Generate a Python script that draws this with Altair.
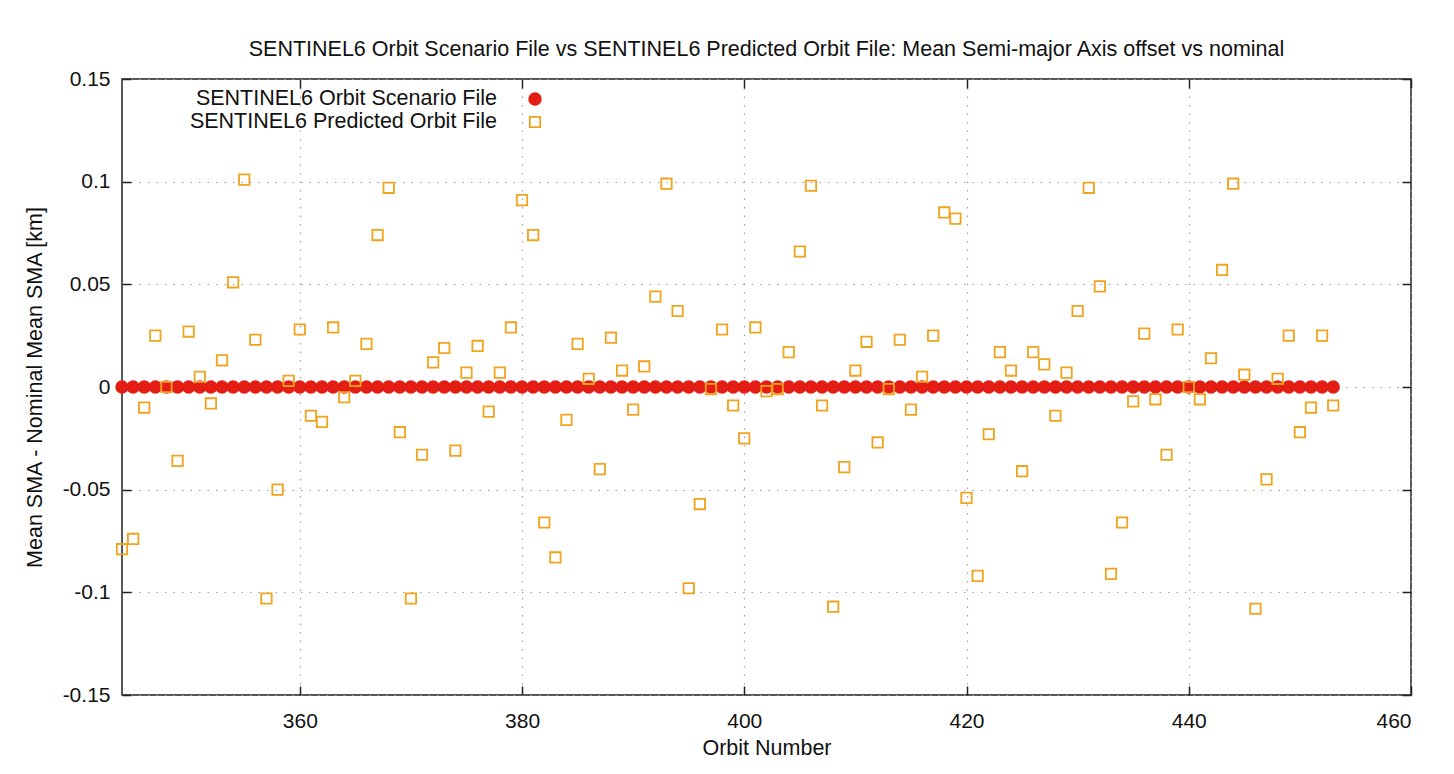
import altair as alt
import pandas as pd

# ---------------- data ----------------
orbits = list(range(344, 454))  # orbit numbers 344 ... 453

scenario_offset = [
    0.0, 0.0, 0.0, 0.0, 0.0, 0.0, 0.0, 0.0, 0.0, 0.0,
    0.0, 0.0, 0.0, 0.0, 0.0, 0.0, 0.0, 0.0, 0.0, 0.0,
    0.0, 0.0, 0.0, 0.0, 0.0, 0.0, 0.0, 0.0, 0.0, 0.0,
    0.0, 0.0, 0.0, 0.0, 0.0, 0.0, 0.0, 0.0, 0.0, 0.0,
    0.0, 0.0, 0.0, 0.0, 0.0, 0.0, 0.0, 0.0, 0.0, 0.0,
    0.0, 0.0, 0.0, 0.0, 0.0, 0.0, 0.0, 0.0, 0.0, 0.0,
    0.0, 0.0, 0.0, 0.0, 0.0, 0.0, 0.0, 0.0, 0.0, 0.0,
    0.0, 0.0, 0.0, 0.0, 0.0, 0.0, 0.0, 0.0, 0.0, 0.0,
    0.0, 0.0, 0.0, 0.0, 0.0, 0.0, 0.0, 0.0, 0.0, 0.0,
    0.0, 0.0, 0.0, 0.0, 0.0, 0.0, 0.0, 0.0, 0.0, 0.0,
    0.0, 0.0, 0.0, 0.0, 0.0, 0.0, 0.0, 0.0, 0.0, 0.0,
]

predicted_offset = [
    -0.079, -0.074, -0.010, 0.025, 0.000, -0.036, 0.027, 0.005, -0.008, 0.013,   # 344-353
    0.051, 0.101, 0.023, -0.103, -0.050, 0.003, 0.028, -0.014, -0.017, 0.029,    # 354-363
    -0.005, 0.003, 0.021, 0.074, 0.097, -0.022, -0.103, -0.033, 0.012, 0.019,    # 364-373
    -0.031, 0.007, 0.020, -0.012, 0.007, 0.029, 0.091, 0.074, -0.066, -0.083,    # 374-383
    -0.016, 0.021, 0.004, -0.040, 0.024, 0.008, -0.011, 0.010, 0.044, 0.099,    # 384-393
    0.037, -0.098, -0.057, -0.001, 0.028, -0.009, -0.025, 0.029, -0.002, -0.001, # 394-403
    0.017, 0.066, 0.098, -0.009, -0.107, -0.039, 0.008, 0.022, -0.027, -0.001,   # 404-413
    0.023, -0.011, 0.005, 0.025, 0.085, 0.082, -0.054, -0.092, -0.023, 0.017,    # 414-423
    0.008, -0.041, 0.017, 0.011, -0.014, 0.007, 0.037, 0.097, 0.049, -0.091,     # 424-433
    -0.066, -0.007, 0.026, -0.006, -0.033, 0.028, 0.000, -0.006, 0.014, 0.057,   # 434-443
    0.099, 0.006, -0.108, -0.045, 0.004, 0.025, -0.022, -0.010, 0.025, -0.009,   # 444-453
]

series_names = ["SENTINEL6 Orbit Scenario File", "SENTINEL6 Predicted Orbit File"]
x_ticks = [360, 380, 400, 420, 440, 460]
y_ticks = [-0.15, -0.1, -0.05, 0, 0.05, 0.1, 0.15]

title_text = ("SENTINEL6 Orbit Scenario File vs SENTINEL6 Predicted Orbit File: "
              "Mean Semi-major Axis offset vs nominal")
x_title = "Orbit Number"
y_title = "Mean SMA - Nominal Mean SMA [km]"

df = pd.concat([
    pd.DataFrame({"orbit": orbits, "offset": scenario_offset, "series": series_names[0]}),
    pd.DataFrame({"orbit": orbits, "offset": predicted_offset, "series": series_names[1]}),
], ignore_index=True)

# ---------------- styling ----------------
FONT = "Liberation Sans"
TXT = "#111111"
RED = "#e41e14"
ORANGE = "#f0a31c"
W, H = 1289, 616

x_scale = alt.Scale(domain=[344, 460], nice=False, zero=False)
y_scale = alt.Scale(domain=[-0.15, 0.15], nice=False, zero=False)

shape_enc = alt.Shape("series:N", scale=alt.Scale(domain=series_names, range=["circle", "square"]), legend=None)
fill_enc = alt.Fill("series:N", scale=alt.Scale(domain=series_names, range=[RED, "transparent"]), legend=None)
stroke_enc = alt.Stroke("series:N", scale=alt.Scale(domain=series_names, range=[RED, ORANGE]), legend=None)
size_enc = alt.Size("series:N", scale=alt.Scale(domain=series_names, range=[135, 108]), legend=None)

main_x_axis = alt.Axis(
    orient="bottom", values=x_ticks, format="d", ticks=False, domain=False,
    labelFont=FONT, labelFontSize=21, labelColor=TXT, labelPadding=15,
    grid=True, gridColor="#a0a0a0", gridDash=[1.5, 7], gridWidth=1.2,
    title=x_title, titleFont=FONT, titleFontSize=21.5, titleFontWeight="normal",
    titleColor=TXT, titleX=W / 2, titleY=59, titleBaseline="alphabetic",
    titleAlign="center",
)
main_y_axis = alt.Axis(
    orient="left", values=y_ticks, labelExpr="'' + datum.value", ticks=False,
    domain=False, labelFont=FONT, labelFontSize=21, labelColor=TXT,
    labelPadding=12, grid=True, gridColor="#a0a0a0", gridDash=[1.5, 7],
    gridWidth=1.2, title=y_title, titleFont=FONT, titleFontSize=21.5,
    titleFontWeight="normal", titleColor=TXT, titleX=-87, titleY=H / 2,
    titleAlign="center", titleBaseline="middle", titleAngle=270,
)

points = alt.Chart(df).mark_point(strokeWidth=1.8, opacity=1).encode(
    x=alt.X("orbit:Q", scale=x_scale, axis=main_x_axis),
    y=alt.Y("offset:Q", scale=y_scale, axis=main_y_axis),
    shape=shape_enc, fill=fill_enc, stroke=stroke_enc, size=size_enc,
)


def tick_axis(orient, values):
    return alt.Axis(
        orient=orient, offset=-9, values=values, labels=False, ticks=True,
        tickSize=9, tickWidth=1.5, tickColor="#222222", domain=False,
        grid=False, title=None,
    )


ticks_bl = alt.Chart(df).mark_point(opacity=0).encode(
    x=alt.X("orbit:Q", scale=x_scale, axis=tick_axis("bottom", x_ticks)),
    y=alt.Y("offset:Q", scale=y_scale, axis=tick_axis("left", y_ticks)),
)
ticks_tr = alt.Chart(df).mark_point(opacity=0).encode(
    x=alt.X("orbit:Q", scale=x_scale, axis=tick_axis("top", x_ticks)),
    y=alt.Y("offset:Q", scale=y_scale, axis=tick_axis("right", y_ticks)),
)

# gnuplot-style key (text right-aligned, sample to its right), top-left inside the frame
KEY_TEXT_X, KEY_SYMBOL_X, KEY_ROW0_Y, KEY_ROW_STEP = 375, 413, 20, 23
key_layers = []
for i, name in enumerate(series_names):
    row = pd.DataFrame({"series": [name]})
    ky = KEY_ROW0_Y + KEY_ROW_STEP * i
    key_layers.append(
        alt.Chart(row).mark_text(align="right", baseline="middle", font=FONT,
                                 fontSize=21.5, color=TXT).encode(
            text="series:N", x=alt.value(KEY_TEXT_X), y=alt.value(ky))
    )
    key_layers.append(
        alt.Chart(row).mark_point(strokeWidth=1.8, opacity=1).encode(
            x=alt.value(KEY_SYMBOL_X), y=alt.value(ky),
            shape=shape_enc, fill=fill_enc, stroke=stroke_enc, size=size_enc)
    )

chart = (
    alt.layer(points, ticks_bl, ticks_tr, *key_layers)
    .resolve_axis(x="independent", y="independent")
    .properties(
        width=W, height=H,
        title=alt.TitleParams(
            text=title_text, font=FONT, fontSize=21.5, fontWeight="normal",
            color=TXT, anchor="middle", frame="group", offset=24, dy=33,
            baseline="alphabetic",
        ),
        autosize=alt.AutoSizeParams(type="none"),
        padding={"left": 114, "top": 71, "right": 35, "bottom": 65},
        background="white",
    )
    .configure_view(stroke="#222222", strokeWidth=1.5)
)

chart.save("out.html", embed_options={"renderer": "svg", "actions": False})
